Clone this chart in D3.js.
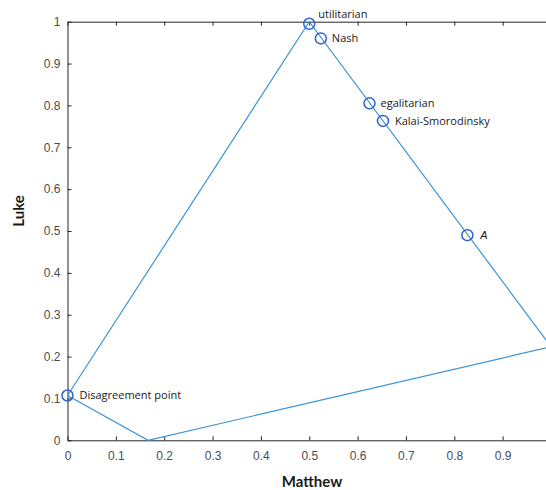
<!DOCTYPE html>
<html>
<head>
<meta charset="utf-8">
<script src="https://cdn.jsdelivr.net/npm/d3@7"></script>
<style>
  body { margin: 0; background: #fff; }
  svg { display: block; }
</style>
</head>
<body>
<div id="chart"></div>
<script>
// Chart size
const width = 546;
const height = 490;

// Data: boundary of the bargaining set (Matthew, Luke)
const boundaryX = [0, 0.5, 1, 0.1667, 0];
const boundaryY = [0.107, 1, 0.2235, 0, 0.107];

// Marked solutions
const pointNames = ["utilitarian", "Nash", "egalitarian", "Kalai-Smorodinsky", "A", "Disagreement point"];
const pointX = [0.5, 0.524, 0.6246, 0.6525, 0.827, 0];
const pointY = [0.995, 0.96, 0.805, 0.763, 0.49, 0.107];

// Ticks
const xTicks = [0, 0.1, 0.2, 0.3, 0.4, 0.5, 0.6, 0.7, 0.8, 0.9];
const yTicks = [0, 0.1, 0.2, 0.3, 0.4, 0.5, 0.6, 0.7, 0.8, 0.9, 1];

const COLORS = {
    axis: "#262626",
    tick: "#4d4d4d",
    line: "#3d93d6",
    marker: "#3262cc",
    text: "#1a1a1a"
};

const margin = { left: 67.5, top: 21.7, bottom: 440.3, right: 551 };

const x = d3.scaleLinear().domain([0, 1]).range([margin.left, margin.right]);
const y = d3.scaleLinear().domain([0, 1]).range([margin.bottom, margin.top]);

const svg = d3.select("#chart")
    .append("svg")
    .attr("width", width)
    .attr("height", height);

// Bottom axis
const xAxis = svg.append("g")
    .attr("transform", `translate(0,${margin.bottom})`)
    .call(d3.axisBottom(x).tickValues(xTicks).tickSize(-4).tickPadding(11).tickSizeOuter(0)
        .tickFormat(d => d === 0 ? "0" : d3.format(".1f")(d)));

// Left axis
const yAxis = svg.append("g")
    .attr("transform", `translate(${margin.left},0)`)
    .call(d3.axisLeft(y).tickValues(yTicks).tickSize(-4).tickPadding(7).tickSizeOuter(0)
        .tickFormat(d => (d === 0 || d === 1) ? String(d) : d3.format(".1f")(d)));

// Top axis (box, no labels)
const topAxis = svg.append("g")
    .attr("transform", `translate(0,${margin.top})`)
    .call(d3.axisTop(x).tickValues(xTicks).tickSize(-4).tickSizeOuter(0).tickFormat(""));

[xAxis, yAxis, topAxis].forEach(ax => {
    ax.select(".domain").attr("stroke", COLORS.axis).attr("stroke-width", 1);
    ax.selectAll(".tick line").attr("stroke", COLORS.axis);
    ax.selectAll(".tick text")
        .attr("fill", COLORS.tick)
        .style("font-family", "'Liberation Sans', Arial, sans-serif")
        .style("font-size", "12px");
});

// Boundary line
const line = d3.line()
    .x((d, i) => x(boundaryX[i]))
    .y((d, i) => y(boundaryY[i]));

svg.append("path")
    .attr("d", line(boundaryX))
    .attr("fill", "none")
    .attr("stroke", COLORS.line)
    .attr("stroke-width", 1.2);

// Markers
const pts = pointNames.map((name, i) => ({ name, x: pointX[i], y: pointY[i] }));

svg.selectAll("circle.pt")
    .data(pts)
    .enter()
    .append("circle")
    .attr("class", "pt")
    .attr("cx", d => x(d.x))
    .attr("cy", d => y(d.y))
    .attr("r", 5.5)
    .attr("fill", "none")
    .attr("stroke", COLORS.marker)
    .attr("stroke-width", 1.5);

// Labels
const labelOffset = {
    "utilitarian": [9, -10],
    "Nash": [11, 0],
    "egalitarian": [11, 0],
    "Kalai-Smorodinsky": [12, 0],
    "A": [13, 0],
    "Disagreement point": [12, 0]
};

svg.selectAll("text.lbl")
    .data(pts)
    .enter()
    .append("text")
    .attr("class", "lbl")
    .attr("x", d => x(d.x) + labelOffset[d.name][0])
    .attr("y", d => y(d.y) + labelOffset[d.name][1])
    .attr("dy", "0.35em")
    .attr("fill", COLORS.text)
    .style("font-family", d => d.name === "A" ? "'Liberation Sans', Arial, sans-serif" : "'Open Sans', sans-serif")
    .style("font-style", d => d.name === "A" ? "italic" : "normal")
    .style("font-size", "11px")
    .text(d => d.name);

// Axis titles
svg.append("text")
    .attr("x", 312)
    .attr("y", 487)
    .attr("text-anchor", "middle")
    .attr("fill", COLORS.text)
    .style("font-family", "Lato, sans-serif")
    .style("font-weight", "bold")
    .style("font-size", "15px")
    .text("Matthew");

svg.append("text")
    .attr("transform", "translate(24,211) rotate(-90)")
    .attr("text-anchor", "middle")
    .attr("fill", COLORS.text)
    .style("font-family", "Lato, sans-serif")
    .style("font-weight", "bold")
    .style("font-size", "15px")
    .text("Luke");
</script>
</body>
</html>
